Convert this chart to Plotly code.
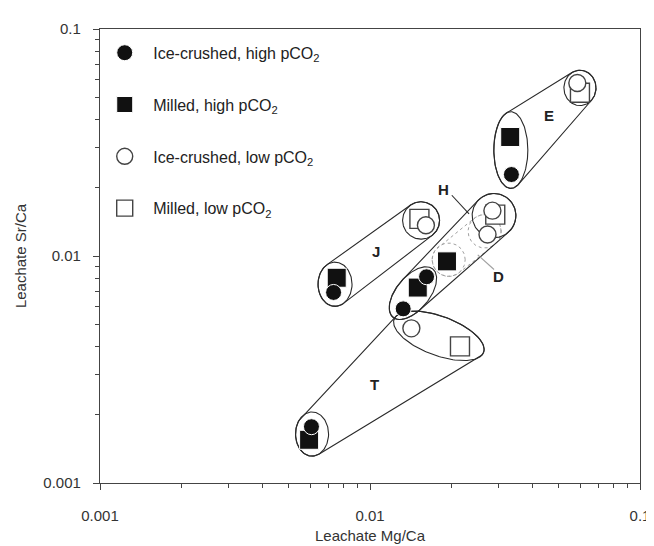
import numpy as np
import plotly.graph_objects as go

# ---------------- data ----------------
ic_high_mg = [0.0334, 0.0162, 0.01327, 0.00733, 0.00607]
ic_high_sr = [0.02285, 0.0081, 0.00585, 0.00691, 0.00177]
ml_high_mg = [0.03306, 0.01928, 0.01503, 0.00753, 0.00595]
ml_high_sr = [0.03344, 0.00947, 0.00726, 0.00802, 0.00155]
ic_low_mg = [0.0586, 0.0284, 0.02724, 0.01611, 0.01423]
ic_low_sr = [0.0578, 0.01584, 0.01243, 0.01365, 0.0048]
ml_low_mg = [0.05993, 0.0291, 0.01524, 0.02154]
ml_low_sr = [0.05236, 0.01522, 0.01458, 0.0040]

series_names = ["Ice-crushed, high pCO<sub>2</sub>", "Milled, high pCO<sub>2</sub>",
                "Ice-crushed, low pCO<sub>2</sub>", "Milled, low pCO<sub>2</sub>"]

tick_vals = [0.001, 0.01, 0.1]
tick_text = ["0.001", "0.01", "0.1"]

group_labels = ["E", "J", "H", "D", "T"]
group_label_mg = [0.04596, 0.0105, 0.01876, 0.03003, 0.01035]
group_label_sr = [0.04164, 0.01043, 0.01966, 0.00815, 0.002726]

# ---------------- layout geometry ----------------
W, H = 654, 546
ML, MR, MT, MB = 87, 12, 20, 64
SX = (W - ML - MR) / 2.0   # px per decade (x)
SY = (H - MT - MB) / 2.0   # px per decade (y)

# enclosing outlines: centre (data values), semi-axes (px), angle (deg)
enc = {
    "E_low": (0.03323, 0.02929, 17.5, 39, 0),
    "E_high": (0.05993, 0.05501, 16.5, 18, 0),
    "J_low": (0.00742, 0.00751, 17.5, 22.5, 0),
    "J_high": (0.01546, 0.01434, 19, 19, 0),
    "T_low": (0.0061, 0.001643, 17, 22.5, 0),
    "T_high": (0.01799, 0.00445, 49, 20, -20),
    "DH_low": (0.01442, 0.00686, 32, 17, 50),
    "DH_high": (0.0288, 0.01507, 22.5, 22.5, 0),
    "D_a": (0.01956, 0.00963, 17, 17, 0),
    "D_b": (0.02658, 0.01285, 17, 17, 0),
}


def ellipse_xy(key, n=160):
    cx, cy, a, b, ang = enc[key]
    t = np.linspace(0, 2 * np.pi, n)
    c, s = np.cos(np.radians(ang)), np.sin(np.radians(ang))
    dx = a * np.cos(t) * c - b * np.sin(t) * s
    dy = a * np.cos(t) * s + b * np.sin(t) * c
    return np.log10(cx) * SX + dx, np.log10(cy) * SY + dy


def hull(points):
    pts = sorted(set(points))
    if len(pts) <= 2:
        return pts

    def cross(o, a, b):
        return (a[0] - o[0]) * (b[1] - o[1]) - (a[1] - o[1]) * (b[0] - o[0])
    lower, upper = [], []
    for p in pts:
        while len(lower) >= 2 and cross(lower[-2], lower[-1], p) <= 0:
            lower.pop()
        lower.append(p)
    for p in reversed(pts):
        while len(upper) >= 2 and cross(upper[-2], upper[-1], p) <= 0:
            upper.pop()
        upper.append(p)
    h = lower[:-1] + upper[:-1]
    return h + [h[0]]


def to_data(X, Y):
    return [10 ** (x / SX) for x in X], [10 ** (y / SY) for y in Y]


fig = go.Figure()
line_col = "#2a2a2a"
grey = "#a0a0a0"


def add_outline(X, Y, color=line_col, dash="solid", width=1.1):
    xs, ys = to_data(X, Y)
    fig.add_trace(go.Scatter(x=xs, y=ys, mode="lines", showlegend=False, hoverinfo="skip",
                             line=dict(color=color, width=width, dash=dash)))


def add_group(k1, k2, color=line_col, dash="solid", width=1.1):
    pts = []
    for k in (k1, k2):
        X, Y = ellipse_xy(k)
        add_outline(X, Y, color, dash, width)
        pts += list(zip(np.round(X, 4), np.round(Y, 4)))
    hh = hull(pts)
    add_outline([p[0] for p in hh], [p[1] for p in hh], color, dash, width)


add_group("D_a", "D_b", grey, "dot", 1.0)
add_group("E_low", "E_high")
add_group("J_low", "J_high")
add_group("T_low", "T_high")
add_group("DH_low", "DH_high")

# leader lines for H and D
fig.add_trace(go.Scatter(x=[0.02009, 0.02327], y=[0.01852, 0.01533], mode="lines",
                         showlegend=False, hoverinfo="skip", line=dict(color=line_col, width=1.1)))
fig.add_trace(go.Scatter(x=[0.02507, 0.0288], y=[0.01012, 0.00872], mode="lines",
                         showlegend=False, hoverinfo="skip", line=dict(color=grey, width=1.1)))

# ---------------- markers ----------------
fig.add_trace(go.Scatter(x=ml_high_mg, y=ml_high_sr, mode="markers", name=series_names[1],
                         legendrank=2, legendgroup="b",
                         marker=dict(symbol="square", size=19, color="#111111",
                                     line=dict(color="white", width=1))))
fig.add_trace(go.Scatter(x=ic_high_mg, y=ic_high_sr, mode="markers", name=series_names[0],
                         legendrank=1, legendgroup="a",
                         marker=dict(symbol="circle", size=16, color="#111111",
                                     line=dict(color="white", width=1))))
fig.add_trace(go.Scatter(x=ml_low_mg, y=ml_low_sr, mode="markers", name=series_names[3],
                         legendrank=4, legendgroup="d",
                         marker=dict(symbol="square", size=19, color="white",
                                     line=dict(color="#444444", width=1.4))))
fig.add_trace(go.Scatter(x=ic_low_mg, y=ic_low_sr, mode="markers", name=series_names[2],
                         legendrank=3, legendgroup="c",
                         marker=dict(symbol="circle", size=17, color="white",
                                     line=dict(color="#444444", width=1.4))))

for lab, mx, sy in zip(group_labels, group_label_mg, group_label_sr):
    fig.add_annotation(x=np.log10(mx), y=np.log10(sy), text="<b>%s</b>" % lab, showarrow=False,
                       font=dict(size=15, color="#222222"))

minor_vals = [m * 10.0 ** e for e in (-3, -2) for m in range(2, 10)]

axis_common = dict(
    type="log", range=[-3, -1], tickmode="array", tickvals=tick_vals, ticktext=tick_text,
    ticks="outside", ticklen=6, tickwidth=1.2, tickcolor="#444444",
    showline=True, linecolor="#444444", linewidth=1.3, mirror=True,
    showgrid=False, zeroline=False,
    tickfont=dict(size=15, color="#333333"),
    minor=dict(tickmode="array", tickvals=minor_vals, ticks="outside", ticklen=4,
               tickwidth=1, tickcolor="#444444", showgrid=False),
)

fig.update_xaxes(**axis_common, ticklabelstandoff=13,
                 title=dict(text="Leachate Mg/Ca", font=dict(size=15, color="#333333"), standoff=7))
fig.update_yaxes(**axis_common, ticklabelstandoff=9,
                 title=dict(text="Leachate Sr/Ca", font=dict(size=15, color="#333333"), standoff=13))

fig.update_layout(
    width=W, height=H,
    margin=dict(l=ML, r=MR, t=MT, b=MB),
    paper_bgcolor="white", plot_bgcolor="white",
    font=dict(family="Liberation Sans, Arial, sans-serif", color="#222222"),
    showlegend=True,
    legend=dict(x=-0.007, y=0.985, xanchor="left", yanchor="top", bgcolor="rgba(0,0,0,0)",
                font=dict(size=16, color="#222222"), tracegroupgap=28, itemsizing="trace",
                itemwidth=47),
)

fig.write_html("out.html")
